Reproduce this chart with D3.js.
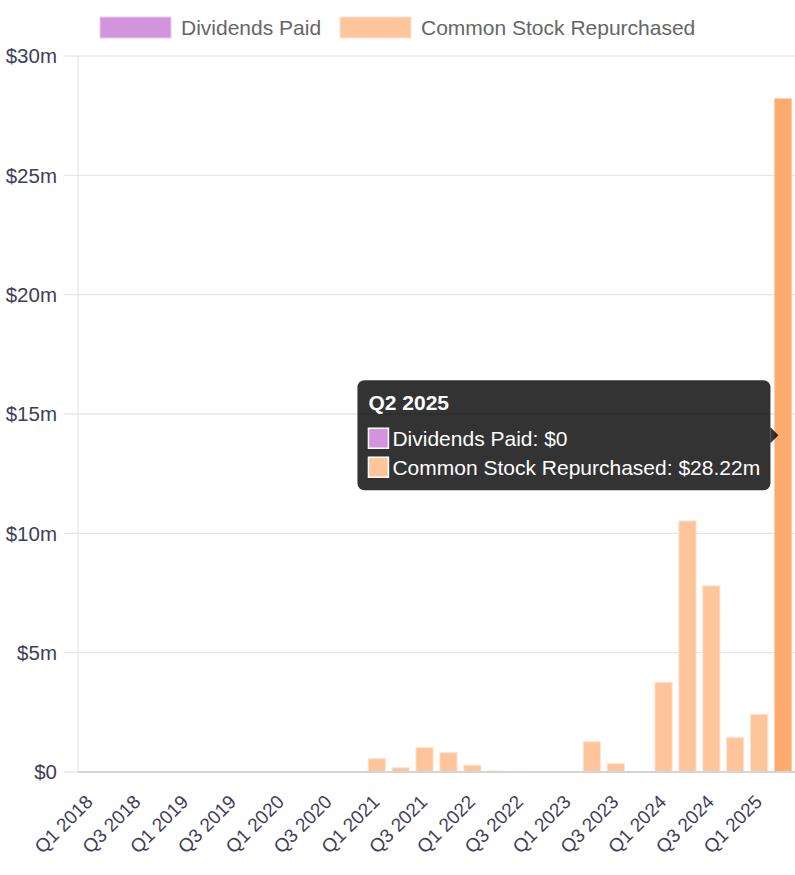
<!DOCTYPE html>
<html>
<head>
<meta charset="utf-8">
<script src="https://cdn.jsdelivr.net/npm/d3@7"></script>
<style>
  body { margin: 0; background: #fff; }
  svg { display: block; font-family: "Liberation Sans", Arial, sans-serif; }
</style>
</head>
<body>
<svg id="chart" width="795" height="875"></svg>
<script>
// data
const quarters = [
  "Q1 2018", "Q2 2018", "Q3 2018", "Q4 2018",
  "Q1 2019", "Q2 2019", "Q3 2019", "Q4 2019",
  "Q1 2020", "Q2 2020", "Q3 2020", "Q4 2020",
  "Q1 2021", "Q2 2021", "Q3 2021", "Q4 2021",
  "Q1 2022", "Q2 2022", "Q3 2022", "Q4 2022",
  "Q1 2023", "Q2 2023", "Q3 2023", "Q4 2023",
  "Q1 2024", "Q2 2024", "Q3 2024", "Q4 2024",
  "Q1 2025", "Q2 2025"
];
const dividendsPaid = [
  0, 0, 0, 0, 0, 0, 0, 0, 0, 0, 0, 0, 0, 0, 0,
  0, 0, 0, 0, 0, 0, 0, 0, 0, 0, 0, 0, 0, 0, 0
];
const stockRepurchased = [
  0, 0, 0, 0, 0, 0, 0, 0, 0, 0, 0, 0,
  0.56, 0.18, 1.03, 0.81, 0.29, 0.04, 0.03, 0,
  0.02, 1.27, 0.35, 0, 3.76, 10.52, 7.8, 1.45,
  2.41, 28.22
];
const yTicks = [0, 5, 10, 15, 20, 25, 30];
const seriesNames = ["Dividends Paid", "Common Stock Repurchased"];
const hovered = "Q2 2025";

const rows = quarters.map((q, i) => ({
  quarter: q,
  dividends: dividendsPaid[i],
  repurchased: stockRepurchased[i]
}));

const svg = d3.select("#chart");
const width = 795, height = 875;
const margin = { top: 56, right: 0, bottom: 103, left: 78 };

const x = d3.scaleBand()
  .domain(quarters)
  .range([margin.left, width - margin.right])
  .paddingInner(0.28)
  .paddingOuter(0.14);

const y = d3.scaleLinear()
  .domain([0, 30])
  .range([height - margin.bottom, margin.top]);

const money = v => v === 0 ? "$0" : "$" + v + "m";

const fills = ["#d294dc", "#fec59b"];
const strokes = ["#eac8ef", "#ffe3cd"];
const hoverFills = ["#c87bd4", "#fdab6e"];

// grid lines
svg.append("g")
  .selectAll("line")
  .data(yTicks)
  .join("line")
  .attr("x1", margin.left - 14)
  .attr("x2", width)
  .attr("y1", d => y(d))
  .attr("y2", d => y(d))
  .attr("stroke", "#e6e6e6")
  .attr("stroke-width", 1.3);

// y axis line
svg.append("line")
  .attr("x1", margin.left).attr("x2", margin.left)
  .attr("y1", y(30)).attr("y2", y(0))
  .attr("stroke", "#e6e6e6")
  .attr("stroke-width", 1.3);

// y labels
svg.append("g")
  .selectAll("text")
  .data(yTicks)
  .join("text")
  .attr("x", margin.left - 21)
  .attr("y", d => y(d))
  .attr("dy", "0.35em")
  .attr("text-anchor", "end")
  .attr("font-size", 20.5)
  .attr("fill", "#3f4057")
  .text(money);

// stacked bars
const stack = d3.stack().keys(["dividends", "repurchased"]);
const layers = stack(rows);

svg.append("g")
  .selectAll("g")
  .data(layers)
  .join("g")
  .each(function(layer, li) {
    d3.select(this).selectAll("rect")
      .data(layer.filter(d => d[1] - d[0] > 0))
      .join("rect")
      .attr("x", d => x(d.data.quarter))
      .attr("width", x.bandwidth())
      .attr("y", d => y(d[1]))
      .attr("height", d => y(d[0]) - y(d[1]))
      .attr("fill", d => d.data.quarter === hovered ? hoverFills[li] : fills[li])
      .attr("stroke", d => d.data.quarter === hovered ? "none" : strokes[li])
      .attr("stroke-width", 1);
  });

// x axis line
svg.append("line")
  .attr("x1", margin.left).attr("x2", width)
  .attr("y1", y(0)).attr("y2", y(0))
  .attr("stroke", "#d4d4d4")
  .attr("stroke-width", 2);

// x labels (every other quarter)
svg.append("g")
  .selectAll("text")
  .data(quarters.filter((q, i) => i % 2 === 0))
  .join("text")
  .attr("transform", d => `translate(${x(d) + x.bandwidth() / 2 + 4},${y(0) + 31}) rotate(-45)`)
  .attr("text-anchor", "end")
  .attr("font-size", 19)
  .attr("fill", "#3f4057")
  .text(d => d);

// legend
const legend = svg.append("g");
const legendItems = [
  { name: seriesNames[0], x: 100, color: fills[0], stroke: strokes[0] },
  { name: seriesNames[1], x: 340, color: fills[1], stroke: strokes[1] }
];
legendItems.forEach(it => {
  legend.append("rect")
    .attr("x", it.x).attr("y", 17)
    .attr("width", 71).attr("height", 21)
    .attr("fill", it.color)
    .attr("stroke", it.stroke);
  legend.append("text")
    .attr("x", it.x + 81).attr("y", 27.5)
    .attr("dy", "0.35em")
    .attr("font-size", 21)
    .attr("fill", "#666")
    .text(it.name);
});

// tooltip for the hovered quarter
const hi = quarters.indexOf(hovered);
const tipRight = x(hovered) - 4;
const tipY = y((dividendsPaid[hi] + stockRepurchased[hi]) / 2);
const tip = svg.append("g");
const tw = 413, th = 110;
const tx = tipRight - tw, ty = tipY - th / 2;
tip.append("rect")
  .attr("x", tx).attr("y", ty)
  .attr("width", tw).attr("height", th)
  .attr("rx", 7)
  .attr("fill", "rgba(0,0,0,0.8)");
tip.append("path")
  .attr("d", `M${tx + tw},${tipY - 8} L${tx + tw + 8},${tipY} L${tx + tw},${tipY + 8} Z`)
  .attr("fill", "rgba(0,0,0,0.8)");
tip.append("text")
  .attr("x", tx + 11).attr("y", ty + 22)
  .attr("dy", "0.35em")
  .attr("font-size", 21)
  .attr("font-weight", "bold")
  .attr("fill", "#fff")
  .text(hovered);
const tipLines = [
  seriesNames[0] + ": " + money(dividendsPaid[hi]),
  seriesNames[1] + ": $" + stockRepurchased[hi].toFixed(2) + "m"
];
tipLines.forEach((t, i) => {
  const ly = ty + 58 + i * 29;
  tip.append("rect")
    .attr("x", tx + 11).attr("y", ly - 10)
    .attr("width", 20).attr("height", 20)
    .attr("fill", fills[i])
    .attr("stroke", "#fff")
    .attr("stroke-width", 1.5);
  tip.append("text")
    .attr("x", tx + 35).attr("y", ly)
    .attr("dy", "0.35em")
    .attr("font-size", 21)
    .attr("fill", "#fff")
    .text(t);
});
</script>
</body>
</html>
